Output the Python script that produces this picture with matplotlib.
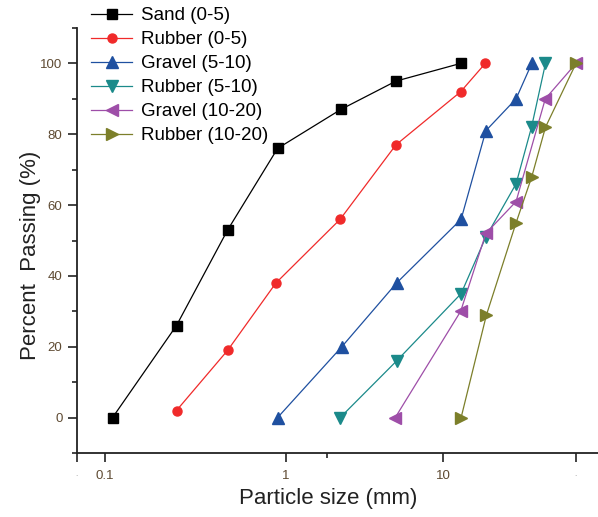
import numpy as np
import matplotlib
matplotlib.use("Agg")
import matplotlib.pyplot as plt
from matplotlib.ticker import FixedLocator, FixedFormatter

plt.rcParams['font.family'] = ['Liberation Sans', 'DejaVu Sans']

# values (particle size in mm, percent passing)
sand_x = [0.11, 0.24, 0.46, 0.89, 2.14, 4.8, 13.2]
sand_y = [0, 26, 53, 76, 87, 95, 100]
rub05_x = [0.24, 0.46, 0.87, 2.12, 4.8, 13.2, 19.8]
rub05_y = [2, 19, 38, 56, 77, 92, 100]
grav510_x = [0.89, 2.17, 4.85, 13.3, 20.0, 33.5, 44.2]
grav510_y = [0, 20, 38, 56, 81, 90, 100]
rub510_x = [2.12, 4.85, 13.3, 20.0, 33.5, 44.0, 56.6]
rub510_y = [0, 16, 35, 51, 66, 82, 100]
grav1020_x = [4.75, 13.2, 20.0, 33.5, 56.4, 100]
grav1020_y = [0, 30, 52, 61, 90, 100]
rub1020_x = [13.3, 20.2, 33.5, 44.2, 56.6, 100]
rub1020_y = [0, 29, 55, 68, 82, 100]

labels = ["Sand (0-5)", "Rubber (0-5)", "Gravel (5-10)", "Rubber (5-10)",
          "Gravel (10-20)", "Rubber (10-20)"]
colors = ["#000000", "#f02a2a", "#1f50a0", "#1b8a8a", "#9e4ea8", "#7c7f2a"]
markers = ["s", "o", "^", "v", "<", ">"]
msizes = [7, 6.5, 8, 8, 8, 8]

# the source axis is log-like but squeezed toward the large sizes
C = 0.0723


def fwd(x):
    L = np.log10(np.clip(np.asarray(x, dtype=float), 1e-6, None))
    return L - C * L ** 2


def inv(u):
    d = np.clip(1 - 4 * C * np.asarray(u, dtype=float), 0, None)
    return 10 ** ((1 - np.sqrt(d)) / (2 * C))


fig = plt.figure(figsize=(5.98, 5.17), dpi=100)
ax = fig.add_axes([77 / 598, 64 / 517, 533 / 598, 425 / 517])
ax.set_xscale("function", functions=(fwd, inv))

series = [(sand_x, sand_y), (rub05_x, rub05_y), (grav510_x, grav510_y),
          (rub510_x, rub510_y), (grav1020_x, grav1020_y), (rub1020_x, rub1020_y)]
for (xs, ys), lab, col, mk, ms in zip(series, labels, colors, markers, msizes):
    ax.plot(xs, ys, color=col, lw=0.9, marker=mk, ms=ms, mec=col, mfc=col,
            label=lab)

xmin, xmax = 0.0723, 195.4
ax.set_xlim(xmin, xmax)
ax.set_ylim(-10, 110)

ax.spines["top"].set_visible(False)
ax.spines["right"].set_visible(False)
for s in ("left", "bottom"):
    ax.spines[s].set_linewidth(1.3)
    ax.spines[s].set_color("#222222")

xt = [xmin, 0.1, 1, 10, 100]
ax.xaxis.set_major_locator(FixedLocator(xt))
ax.xaxis.set_major_formatter(FixedFormatter(["·", "0.1", "1", "10", "·"]))
ax.xaxis.set_minor_locator(FixedLocator([1.757]))
ax.set_yticks([0, 20, 40, 60, 80, 100])
ax.yaxis.set_minor_locator(FixedLocator([-10, 10, 30, 50, 70, 90, 110]))

ax.tick_params(axis="both", which="major", direction="out", length=6.5,
               width=1.2, labelsize=9.5, colors="#222222", labelcolor="#5e4a32")
ax.tick_params(axis="both", which="minor", direction="out", length=3.5,
               width=1.2, colors="#222222")
ax.tick_params(axis="x", which="major", pad=6)
ax.tick_params(axis="y", which="major", pad=4)
for i in (0, 4):
    ax.get_xticklabels()[i].set_color("#bbbbbb")

ax.set_xlabel("Particle size (mm)", fontsize=16, color="#222222")
ax.set_ylabel("Percent  Passing (%)", fontsize=16, color="#222222")
ax.xaxis.set_label_coords(0.471, -0.083)
ax.yaxis.set_label_coords(-0.068, 0.466)

leg = ax.legend(loc="upper left", bbox_to_anchor=(91 / 598, 1 - 7 / 517),
                bbox_transform=fig.transFigure, frameon=False, fontsize=13.5,
                numpoints=1, handlelength=2.2, handletextpad=0.45,
                labelspacing=0.37, borderpad=0, borderaxespad=0)

fig.savefig("out.png", dpi=100)
